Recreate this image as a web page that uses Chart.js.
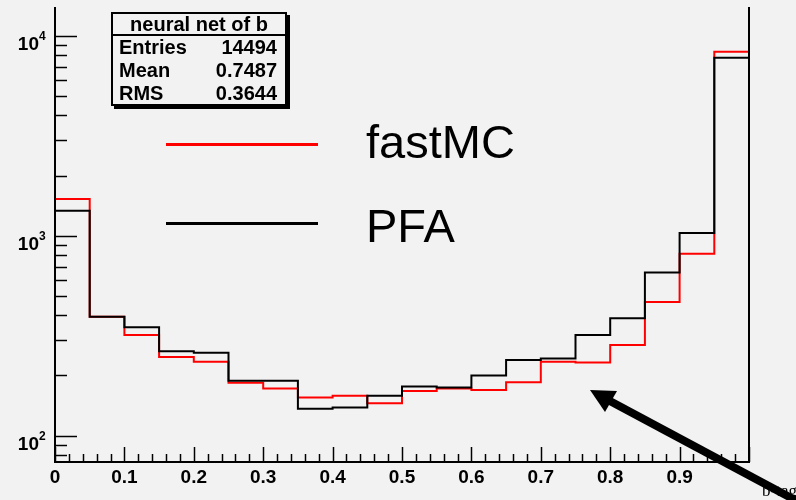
<!DOCTYPE html>
<html>
<head>
<meta charset="utf-8">
<script src="https://cdn.jsdelivr.net/npm/chart.js@4"></script>
<style>
  html, body { margin: 0; padding: 0; background: #f2f2f2; }
  #wrap { position: relative; width: 796px; height: 500px; overflow: hidden; }
  canvas { position: absolute; left: 0; top: 0; }
  .stats {
    position: absolute; left: 111px; top: 12px; width: 172px; height: 90px;
    border: 2px solid #000; background: #f2f2f2; box-shadow: 3px 3px 0 #000;
    font-family: "Liberation Sans", Arial, sans-serif; font-weight: bold; font-size: 20px;
  }
  .stats .title { text-align: center; border-bottom: 2px solid #000; height: 20px; line-height: 20px; }
  .stats .row { display: flex; justify-content: space-between; padding: 0 8px 0 6px; height: 23px; line-height: 23px; }
  .leg {
    position: absolute; font-family: "Liberation Sans", Arial, sans-serif; font-size: 47px; line-height: 1;
  }
  .legline { position: absolute; left: 166px; width: 152px; height: 3px; }
</style>
</head>
<body>
<div id="wrap">
  <canvas id="c" width="796" height="500"></canvas>
  <div class="stats">
    <div class="title">neural net of b</div>
    <div class="row"><span>Entries</span><span>14494</span></div>
    <div class="row"><span>Mean</span><span>0.7487</span></div>
    <div class="row"><span>RMS</span><span>0.3644</span></div>
  </div>
  <div class="legline" style="top:143px;background:#ff0000"></div>
  <div class="leg" style="left:366px;top:118px">fastMC</div>
  <div class="legline" style="top:222px;background:#000"></div>
  <div class="leg" style="left:366px;top:202px">PFA</div>
</div>
<script>
// bin low edges (width 0.05)
const binLow = [0, 0.05, 0.1, 0.15, 0.2, 0.25, 0.3, 0.35, 0.4, 0.45,
                0.5, 0.55, 0.6, 0.65, 0.7, 0.75, 0.8, 0.85, 0.9, 0.95];
const binHigh = 1.0;

// fastMC (red) and PFA (black) bin contents
const fastMC = [1528, 393, 319, 247, 234, 184, 172, 155, 158, 145,
                167, 172, 169, 185, 234, 232, 284, 466, 813, 8340];
const pfa    = [1334, 393, 348, 264, 260, 188, 188, 136, 138, 158,
                176, 174, 200, 239, 243, 319, 386, 655, 1033, 7780];

const xTickLabels = ['0', '0.1', '0.2', '0.3', '0.4', '0.5', '0.6', '0.7', '0.8', '0.9'];
const xTickValues = [0, 0.1, 0.2, 0.3, 0.4, 0.5, 0.6, 0.7, 0.8, 0.9];
const yDecades = [100, 1000, 10000];
const yExponents = ['2', '3', '4'];

function steps(vals) {
  const pts = binLow.map((x, i) => ({ x: x, y: vals[i] }));
  pts.push({ x: binHigh, y: vals[vals.length - 1] });
  return pts;
}

const rootAxes = {
  id: 'rootAxes',
  afterDraw(chart) {
    const ctx = chart.ctx;
    const xs = chart.scales.x, ys = chart.scales.y;
    const a = chart.chartArea;
    ctx.save();
    ctx.strokeStyle = '#000';
    ctx.fillStyle = '#000';
    // frame: left, bottom, right
    ctx.lineWidth = 2;
    ctx.beginPath();
    ctx.moveTo(a.left, a.top); ctx.lineTo(a.left, a.bottom);
    ctx.lineTo(a.right, a.bottom); ctx.lineTo(a.right, a.top);
    ctx.stroke();

    // x ticks (inward, up)
    ctx.lineWidth = 1.5;
    for (let k = 0; k <= 50; k++) {
      const v = k * 0.02;
      const px = Math.round(xs.getPixelForValue(v)) + 0.5;
      const len = (k % 5 === 0) ? 15 : 8;
      ctx.beginPath(); ctx.moveTo(px, a.bottom); ctx.lineTo(px, a.bottom - len); ctx.stroke();
    }
    // y ticks (inward, right)
    for (let d = 10; d <= 10000; d *= 10) {
      for (let m = 1; m <= 9; m++) {
        const v = d * m;
        if (v < ys.min || v > ys.max) continue;
        const py = Math.round(ys.getPixelForValue(v)) + 0.5;
        const len = (m === 1) ? 22 : 12;
        ctx.beginPath(); ctx.moveTo(a.left, py); ctx.lineTo(a.left + len, py); ctx.stroke();
      }
    }
    // x labels
    ctx.font = 'bold 19px "Liberation Sans", Arial, sans-serif';
    ctx.textAlign = 'center';
    ctx.textBaseline = 'alphabetic';
    xTickValues.forEach((v, i) => {
      ctx.fillText(xTickLabels[i], xs.getPixelForValue(v), 483);
    });
    // y labels 10^n
    yDecades.forEach((v, i) => {
      const py = ys.getPixelForValue(v);
      ctx.font = 'bold 19px "Liberation Sans", Arial, sans-serif';
      ctx.textAlign = 'right';
      ctx.fillText('10', 39, py + 14);
      ctx.font = 'bold 12px "Liberation Sans", Arial, sans-serif';
      ctx.textAlign = 'left';
      ctx.fillText(yExponents[i], 39, py + 4);
    });

    // axis title, partly hidden
    ctx.font = '17px "Liberation Serif", "Times New Roman", serif';
    ctx.textAlign = 'left';
    ctx.fillText('b-tag', 762, 496);

    // arrow
    ctx.lineWidth = 8;
    ctx.lineCap = 'butt';
    ctx.beginPath(); ctx.moveTo(608, 400); ctx.lineTo(810, 508); ctx.stroke();
    ctx.beginPath();
    ctx.moveTo(590, 390); ctx.lineTo(617, 391); ctx.lineTo(605, 412); ctx.closePath();
    ctx.fill();
    ctx.restore();
  }
};

new Chart(document.getElementById('c'), {
  type: 'line',
  data: {
    datasets: [
      { label: 'fastMC', data: steps(fastMC), borderColor: '#ff0000', borderWidth: 2,
        stepped: 'before', pointRadius: 0, fill: false, order: 2 },
      { label: 'PFA', data: steps(pfa), borderColor: '#000000', borderWidth: 2,
        stepped: 'before', pointRadius: 0, fill: false, order: 1 }
    ]
  },
  options: {
    responsive: false,
    animation: false,
    events: [],
    layout: { padding: { left: 55, right: 47, top: 7, bottom: 38 } },
    plugins: { legend: { display: false }, tooltip: { enabled: false } },
    scales: {
      x: { type: 'linear', min: 0, max: 1, display: false },
      y: { type: 'logarithmic', min: 73.7, max: 13970, display: false }
    }
  },
  plugins: [rootAxes]
});
</script>
</body>
</html>
